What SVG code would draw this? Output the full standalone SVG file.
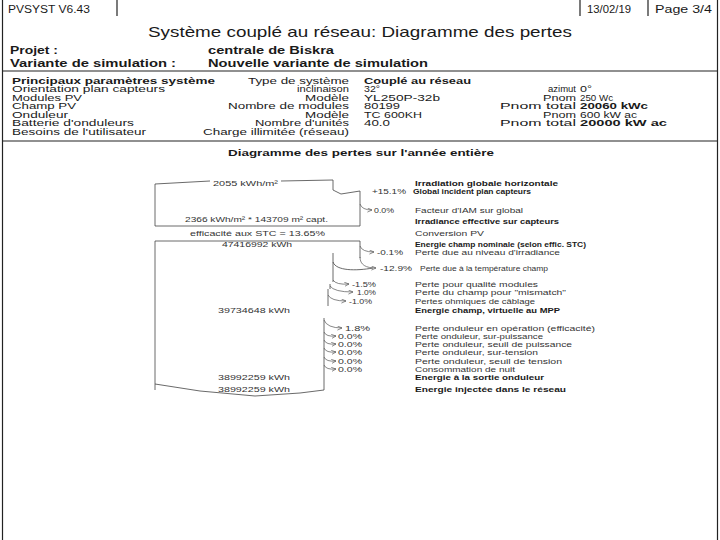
<svg xmlns="http://www.w3.org/2000/svg" width="720" height="540" viewBox="0 0 720 540">
<style>
text{font-family:"Liberation Sans",Arial,sans-serif;fill:#1a1a1a}
.h{font-size:10px}
.ti{font-size:15px}
.hb{font-size:10px;font-weight:bold}
.p{font-size:8.8px}
.pb{font-size:8.8px;font-weight:bold}
.dt{font-size:8.5px;font-weight:bold}
.d{font-size:7.8px;fill:#333}
.db{font-size:7.8px;font-weight:bold}
.fr{stroke:#222;stroke-width:1.2;fill:none}
.ln{stroke:#444;stroke-width:0.8;fill:none}
.ar{stroke:#555;stroke-width:0.7;fill:none;marker-end:url(#ah)}
</style>
<defs>
<marker id="ah" viewBox="0 0 6 6" refX="5.5" refY="3" markerWidth="5" markerHeight="5" orient="auto" markerUnits="userSpaceOnUse">
<path d="M0,0.5 L5.5,3 L0,5.5" fill="none" stroke="#555" stroke-width="0.8"/>
</marker>
</defs>
<rect width="720" height="540" fill="#fff"/>
<g id="frame">
<line class="fr" x1="2.5" y1="0" x2="2.5" y2="540"/>
<line class="fr" x1="717.5" y1="0" x2="717.5" y2="540"/>
<line class="fr" x1="117" y1="0" x2="117" y2="16"/>
<line class="fr" x1="580" y1="0" x2="580" y2="16"/>
<line class="fr" x1="648" y1="0" x2="648" y2="16"/>
<line class="fr" x1="2" y1="71" x2="718" y2="71"/>
<line class="fr" x1="2" y1="141" x2="718" y2="141"/>
</g>
<g id="header">
<text class="h" x="8" y="13" textLength="82" lengthAdjust="spacingAndGlyphs">PVSYST V6.43</text>
<text class="h" x="587" y="13" textLength="44" lengthAdjust="spacingAndGlyphs">13/02/19</text>
<text class="h" x="655" y="13" textLength="57" lengthAdjust="spacingAndGlyphs">Page 3/4</text>
<text class="ti" x="148" y="37" textLength="424" lengthAdjust="spacingAndGlyphs">Système couplé au réseau: Diagramme des pertes</text>
<text class="hb" x="10" y="54" textLength="48" lengthAdjust="spacingAndGlyphs">Projet :</text>
<text class="hb" x="208" y="54" textLength="126" lengthAdjust="spacingAndGlyphs">centrale de Biskra</text>
<text class="hb" x="10" y="67" textLength="166" lengthAdjust="spacingAndGlyphs">Variante de simulation :</text>
<text class="hb" x="208" y="67" textLength="220" lengthAdjust="spacingAndGlyphs">Nouvelle variante de simulation</text>
</g>
<g id="params">
<text class="pb" x="12" y="83.5" textLength="203" lengthAdjust="spacingAndGlyphs">Principaux paramètres système</text>
<text class="p" x="12" y="92" textLength="153" lengthAdjust="spacingAndGlyphs">Orientation plan capteurs</text>
<text class="p" x="12" y="100.5" textLength="70" lengthAdjust="spacingAndGlyphs">Modules PV</text>
<text class="p" x="12" y="109" textLength="64" lengthAdjust="spacingAndGlyphs">Champ PV</text>
<text class="p" x="12" y="117.5" textLength="56" lengthAdjust="spacingAndGlyphs">Onduleur</text>
<text class="p" x="12" y="126" textLength="122" lengthAdjust="spacingAndGlyphs">Batterie d'onduleurs</text>
<text class="p" x="12" y="134.5" textLength="134" lengthAdjust="spacingAndGlyphs">Besoins de l'utilisateur</text>
<text class="p" x="248" y="83.5" textLength="101" lengthAdjust="spacingAndGlyphs">Type de système</text>
<text class="p" x="297" y="92" textLength="52" lengthAdjust="spacingAndGlyphs">inclinaison</text>
<text class="p" x="305" y="100.5" textLength="44" lengthAdjust="spacingAndGlyphs">Modèle</text>
<text class="p" x="228" y="109" textLength="121" lengthAdjust="spacingAndGlyphs">Nombre de modules</text>
<text class="p" x="305" y="117.5" textLength="44" lengthAdjust="spacingAndGlyphs">Modèle</text>
<text class="p" x="255" y="126" textLength="94" lengthAdjust="spacingAndGlyphs">Nombre d'unités</text>
<text class="p" x="203" y="134.5" textLength="146" lengthAdjust="spacingAndGlyphs">Charge illimitée (réseau)</text>
<text class="pb" x="364" y="83.5" textLength="107" lengthAdjust="spacingAndGlyphs">Couplé au réseau</text>
<text class="p" x="364" y="92" textLength="16" lengthAdjust="spacingAndGlyphs">32°</text>
<text class="p" x="364" y="100.5" textLength="76" lengthAdjust="spacingAndGlyphs">YL250P-32b</text>
<text class="p" x="364" y="109" textLength="36" lengthAdjust="spacingAndGlyphs">80199</text>
<text class="p" x="364" y="117.5" textLength="58" lengthAdjust="spacingAndGlyphs">TC 600KH</text>
<text class="p" x="364" y="126" textLength="26" lengthAdjust="spacingAndGlyphs">40.0</text>
<text class="p" x="548" y="92" textLength="28" lengthAdjust="spacingAndGlyphs">azimut</text>
<text class="p" x="543" y="100.5" textLength="33" lengthAdjust="spacingAndGlyphs">Pnom</text>
<text class="p" x="500" y="109" textLength="76" lengthAdjust="spacingAndGlyphs">Pnom total</text>
<text class="p" x="543" y="117.5" textLength="33" lengthAdjust="spacingAndGlyphs">Pnom</text>
<text class="p" x="500" y="126" textLength="76" lengthAdjust="spacingAndGlyphs">Pnom total</text>
<text class="p" x="580" y="92" textLength="12" lengthAdjust="spacingAndGlyphs">0°</text>
<text class="p" x="580" y="100.5" textLength="33" lengthAdjust="spacingAndGlyphs">250 Wc</text>
<text class="pb" x="580" y="109" textLength="68" lengthAdjust="spacingAndGlyphs">20060 kWc</text>
<text class="p" x="580" y="117.5" textLength="57" lengthAdjust="spacingAndGlyphs">600 kW ac</text>
<text class="pb" x="580" y="126" textLength="87" lengthAdjust="spacingAndGlyphs">20000 kW ac</text>
</g>
<g id="diagram-title">
<text class="dt" x="228" y="155.5" textLength="266" lengthAdjust="spacingAndGlyphs">Diagramme des pertes sur l'année entière</text>
</g>
<g id="connectors">
<path class="ln" d="M155,184 L210,181 M281,181 L333,180 L333,190 L341,194 L360,191 L360,226 L155,226 L155,184"/>
<path class="ar" d="M360,204 Q362,210 372,210"/>
<path class="ln" d="M155,390 L155,241 L360,241 L360,258"/>
<path class="ar" d="M360,246 Q362,252 374,252"/>
<path class="ar" d="M360,257 C360,265 366,268 376,268"/>
<path class="ln" d="M333,262 C336,271 356,271 373,268"/>
<path class="ln" d="M333,253 L333,282 M330,284 L330,289 M328,289 L328,306"/>
<path class="ar" d="M333,280 Q336,285 349,284"/>
<path class="ar" d="M330,286 Q334,292 353,292"/>
<path class="ar" d="M328,295 Q331,301 346,301"/>
<path class="ln" d="M155,384 L200,391 L255,396 L300,393 L324,390 L324,318"/>
<path class="ar" d="M324,320 Q327,328 342,328"/>
<path class="ar" d="M324,332 Q326,337 336,336"/>
<path class="ar" d="M324,340 Q326,345 336,344"/>
<path class="ar" d="M324,348 Q326,353 336,352"/>
<path class="ar" d="M324,357 Q326,362 336,361"/>
<path class="ar" d="M324,365 Q326,370 336,369"/>
</g>
<g id="node-irradiation">
<text class="d" x="213" y="186" textLength="65" lengthAdjust="spacingAndGlyphs">2055 kWh/m²</text>
<text class="db" x="415" y="186" textLength="143" lengthAdjust="spacingAndGlyphs">Irradiation globale horizontale</text>
</g>
<g id="node-global">
<text class="d" x="372" y="194" textLength="34" lengthAdjust="spacingAndGlyphs">+15.1%</text>
<text class="db" x="413" y="194" textLength="118" lengthAdjust="spacingAndGlyphs">Global incident plan capteurs</text>
</g>
<g id="node-iam">
<text class="d" x="374" y="213" textLength="20" lengthAdjust="spacingAndGlyphs">0.0%</text>
<text class="d" x="415" y="213" textLength="108" lengthAdjust="spacingAndGlyphs">Facteur d'IAM  sur global</text>
</g>
<g id="node-effective">
<text class="d" x="185" y="222" textLength="143" lengthAdjust="spacingAndGlyphs">2366 kWh/m² * 143709 m² capt.</text>
<text class="db" x="415" y="224" textLength="144" lengthAdjust="spacingAndGlyphs">Irradiance effective sur capteurs</text>
</g>
<g id="node-conversion">
<text class="d" x="190" y="236" textLength="135" lengthAdjust="spacingAndGlyphs">efficacité aux STC = 13.65%</text>
<text class="d" x="415" y="236" textLength="69" lengthAdjust="spacingAndGlyphs">Conversion PV</text>
</g>
<g id="node-nominal">
<text class="d" x="222" y="247" textLength="70" lengthAdjust="spacingAndGlyphs">47416992 kWh</text>
<text class="db" x="415" y="247" textLength="171" lengthAdjust="spacingAndGlyphs">Energie champ nominale (selon effic. STC)</text>
</g>
<g id="node-irradiance-loss">
<text class="d" x="377" y="255" textLength="26" lengthAdjust="spacingAndGlyphs">-0.1%</text>
<text class="d" x="415" y="255" textLength="145" lengthAdjust="spacingAndGlyphs">Perte due au niveau d'irradiance</text>
</g>
<g id="node-temperature">
<text class="d" x="380" y="271" textLength="32" lengthAdjust="spacingAndGlyphs">-12.9%</text>
<text class="d" x="420" y="271" textLength="128" lengthAdjust="spacingAndGlyphs">Perte due à la température champ</text>
</g>
<g id="node-quality">
<text class="d" x="352" y="287" textLength="24" lengthAdjust="spacingAndGlyphs">-1.5%</text>
<text class="d" x="415" y="287" textLength="123" lengthAdjust="spacingAndGlyphs">Perte pour qualité modules</text>
</g>
<g id="node-mismatch">
<text class="d" x="357" y="295" textLength="19" lengthAdjust="spacingAndGlyphs">1.0%</text>
<text class="d" x="415" y="295" textLength="151" lengthAdjust="spacingAndGlyphs">Perte du champ pour "mismatch"</text>
</g>
<g id="node-ohmic">
<text class="d" x="349" y="304" textLength="23" lengthAdjust="spacingAndGlyphs">-1.0%</text>
<text class="d" x="415" y="304" textLength="120" lengthAdjust="spacingAndGlyphs">Pertes ohmiques de câblage</text>
</g>
<g id="node-mpp">
<text class="d" x="218" y="313" textLength="72" lengthAdjust="spacingAndGlyphs">39734648 kWh</text>
<text class="db" x="415" y="313" textLength="145" lengthAdjust="spacingAndGlyphs">Energie champ, virtuelle au MPP</text>
</g>
<g id="node-inv-eff">
<text class="d" x="345" y="331" textLength="25" lengthAdjust="spacingAndGlyphs">1.8%</text>
<text class="d" x="415" y="331" textLength="180" lengthAdjust="spacingAndGlyphs">Perte onduleur en opération (efficacité)</text>
</g>
<g id="node-inv-overpower">
<text class="d" x="338" y="339" textLength="24" lengthAdjust="spacingAndGlyphs">0.0%</text>
<text class="d" x="415" y="339" textLength="128" lengthAdjust="spacingAndGlyphs">Perte onduleur, sur-puissance</text>
</g>
<g id="node-inv-powerthr">
<text class="d" x="338" y="347" textLength="24" lengthAdjust="spacingAndGlyphs">0.0%</text>
<text class="d" x="415" y="347" textLength="157" lengthAdjust="spacingAndGlyphs">Perte onduleur, seuil de puissance</text>
</g>
<g id="node-inv-overvolt">
<text class="d" x="338" y="355" textLength="24" lengthAdjust="spacingAndGlyphs">0.0%</text>
<text class="d" x="415" y="355" textLength="123" lengthAdjust="spacingAndGlyphs">Perte onduleur, sur-tension</text>
</g>
<g id="node-inv-voltthr">
<text class="d" x="338" y="364" textLength="24" lengthAdjust="spacingAndGlyphs">0.0%</text>
<text class="d" x="415" y="364" textLength="147" lengthAdjust="spacingAndGlyphs">Perte onduleur, seuil de tension</text>
</g>
<g id="node-night">
<text class="d" x="338" y="372" textLength="24" lengthAdjust="spacingAndGlyphs">0.0%</text>
<text class="d" x="415" y="372" textLength="100" lengthAdjust="spacingAndGlyphs">Consommation de nuit</text>
</g>
<g id="node-output">
<text class="d" x="218" y="380" textLength="72" lengthAdjust="spacingAndGlyphs">38992259 kWh</text>
<text class="db" x="415" y="380" textLength="129" lengthAdjust="spacingAndGlyphs">Energie à la sortie onduleur</text>
</g>
<g id="node-grid">
<text class="d" x="218" y="392" textLength="72" lengthAdjust="spacingAndGlyphs">38992259 kWh</text>
<text class="db" x="415" y="392" textLength="151" lengthAdjust="spacingAndGlyphs">Energie injectée dans le réseau</text>
</g>
</svg>
